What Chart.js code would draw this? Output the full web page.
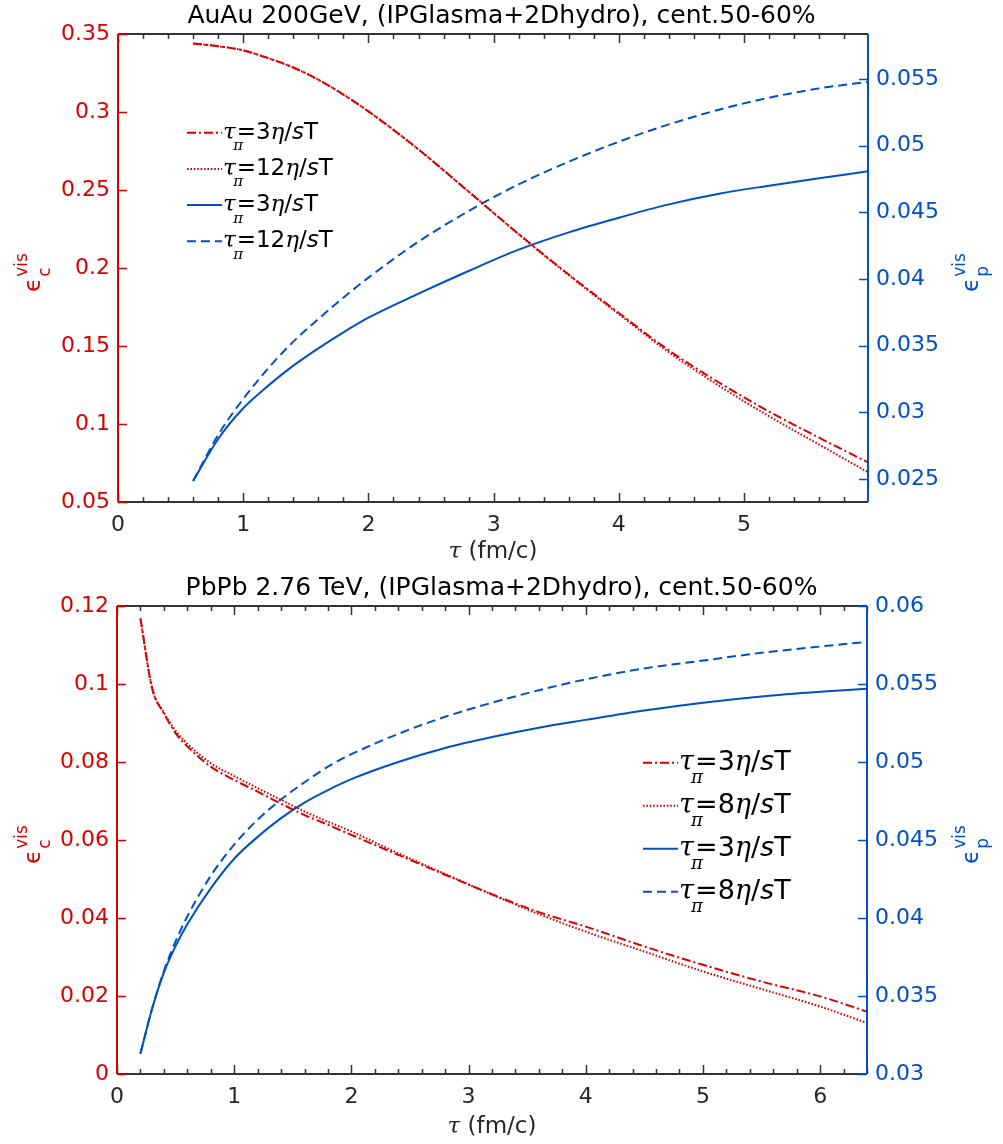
<!DOCTYPE html>
<html>
<head>
<meta charset="utf-8">
<title>epsilon_c / epsilon_p vs tau</title>
<script src="https://cdn.jsdelivr.net/npm/chart.js@4.4.1/dist/chart.umd.min.js"></script>
<style>
  body { margin: 0; background: #fff; }
  #wrap { position: relative; width: 1003px; height: 1144px; }
  #wrap canvas { position: absolute; left: 0; }
</style>
</head>
<body>
<div id="wrap">
  <canvas id="auau" width="1003" height="572" style="top:0"></canvas>
  <canvas id="pbpb" width="1003" height="572" style="top:572px"></canvas>
</div>
<script>
// AuAu 200GeV, cent.50-60%  (tau in fm/c)
var AU_TAU = [0.6, 0.8, 1.0, 1.2, 1.4, 1.6, 1.8, 2.0, 2.4, 2.8, 3.2, 3.6, 4.0, 4.4, 4.8, 5.2, 5.6, 6.0];
var AU_EC_3  = [0.3439, 0.3422, 0.3395, 0.3345, 0.3285, 0.3207, 0.3112, 0.3004, 0.2760, 0.2490, 0.2218, 0.1958, 0.1712, 0.1472, 0.1266, 0.1080, 0.0912, 0.0750];
var AU_EC_12 = [0.3439, 0.3422, 0.3395, 0.3345, 0.3285, 0.3207, 0.3112, 0.3004, 0.2760, 0.2490, 0.2216, 0.1954, 0.1704, 0.1460, 0.1245, 0.1050, 0.0868, 0.0686];
var AU_EP_3  = [0.02485, 0.0280, 0.0303, 0.0320, 0.0335, 0.0348, 0.0360, 0.0371, 0.0389, 0.0406, 0.0422, 0.0435, 0.0446, 0.0456, 0.0464, 0.0470, 0.04755, 0.0481];
var AU_EP_12 = [0.02485, 0.0283, 0.0310, 0.0333, 0.0353, 0.0370, 0.0386, 0.0401, 0.0428, 0.0451, 0.0471, 0.0488, 0.0503, 0.0516, 0.0527, 0.0536, 0.0543, 0.0548];

// PbPb 2.76 TeV, cent.50-60%
var PB_TAU = [0.2, 0.3, 0.4, 0.5, 0.6, 0.8, 1.0, 1.2, 1.4, 1.6, 1.8, 2.0, 2.4, 2.8, 3.2, 3.6, 4.0, 4.5, 5.0, 5.5, 6.0, 6.4];
var PB_EC_3 = [0.1168, 0.0989, 0.0925, 0.0874, 0.0840, 0.0788, 0.0754, 0.0724, 0.0693, 0.0664, 0.0639, 0.0613, 0.0562, 0.0511, 0.0461, 0.0415, 0.0378, 0.0327, 0.0280, 0.0237, 0.0199, 0.0160];
var PB_EC_8 = [0.1168, 0.0989, 0.0927, 0.0880, 0.0847, 0.0797, 0.0764, 0.0733, 0.0703, 0.0673, 0.0647, 0.0622, 0.0566, 0.0513, 0.0460, 0.0410, 0.0365, 0.0314, 0.0263, 0.0218, 0.0173, 0.0131];
var PB_EP_3 = [0.0313, 0.0342, 0.0365, 0.0382, 0.0396, 0.0419, 0.0438, 0.0452, 0.0464, 0.0474, 0.0482, 0.0489, 0.0500, 0.0509, 0.0516, 0.0522, 0.0527, 0.0533, 0.0538, 0.0542, 0.0545, 0.0547];
var PB_EP_8 = [0.0313, 0.0342, 0.0366, 0.0385, 0.0401, 0.0427, 0.0447, 0.0463, 0.0476, 0.0487, 0.0497, 0.0505, 0.0518, 0.0529, 0.0538, 0.0546, 0.0553, 0.0560, 0.0565, 0.0570, 0.0574, 0.0577];

// axis ranges and tick labels
var AU_X_TICKS = [0, 1, 2, 3, 4, 5];
var AU_YL_TICKS = [0.05, 0.1, 0.15, 0.2, 0.25, 0.3, 0.35];
var AU_YR_TICKS = [0.025, 0.03, 0.035, 0.04, 0.045, 0.05, 0.055];
var PB_X_TICKS = [0, 1, 2, 3, 4, 5, 6];
var PB_YL_TICKS = [0, 0.02, 0.04, 0.06, 0.08, 0.1, 0.12];
var PB_YR_TICKS = [0.03, 0.035, 0.04, 0.045, 0.05, 0.055, 0.06];

(function () {
  "use strict";

  var RED = "#d90000";
  var BLUE = "#0050c4";
  var INK = "#262626";
  var AXIS = "#333333";
  var SANS = '"DejaVu Sans", sans-serif';
  var SERIF = '"DejaVu Serif", serif';

  var DASHDOT = [9, 3, 2, 3];
  var DOTTED = [1.6, 1.8];
  var DASHED = [9, 5];

  function fmt(v) {
    return String(parseFloat(Number(v).toFixed(4)));
  }

  function points(xs, ys) {
    return xs.map(function (x, i) { return { x: x, y: ys[i] }; });
  }

  function fixedTicks(list) {
    return function (scale) {
      scale.ticks = list.map(function (v) { return { value: v }; });
    };
  }

  function series(num, xs, ys, color, dash, axis) {
    return {
      label: num,
      data: points(xs, ys),
      yAxisID: axis,
      borderColor: color,
      backgroundColor: color,
      borderWidth: 2,
      borderDash: dash,
      pointRadius: 0,
      fill: false,
      cubicInterpolationMode: "monotone"
    };
  }

  // draws one run of text and returns the new pen x
  function seg(ctx, text, x, base, font) {
    ctx.font = font;
    ctx.fillText(text, x, base);
    return x + ctx.measureText(text).width;
  }

  // tau_pi = N eta/sT
  function drawTauLabel(ctx, x, y, num, size) {
    var base = y + 0.26 * size;
    ctx.textAlign = "left";
    ctx.textBaseline = "alphabetic";
    ctx.fillStyle = "#000";
    ctx.font = "italic " + size + "px " + SERIF;
    ctx.fillText("\u03c4", x, base);
    var w = ctx.measureText("\u03c4").width;
    ctx.font = "italic " + Math.round(size * 0.66) + "px " + SERIF;
    ctx.fillText("\u03c0", x + w * 0.8, base + 0.5 * size);
    x += w + 0.04 * size;
    x = seg(ctx, "=" + num, x, base, size + "px " + SANS);
    x = seg(ctx, "\u03b7", x, base, "italic " + size + "px " + SERIF);
    x = seg(ctx, "/", x, base, size + "px " + SANS);
    x = seg(ctx, "s", x, base, "italic " + size + "px " + SANS);
    seg(ctx, "T", x, base, size + "px " + SANS);
  }

  // rotated epsilon_sub^vis axis title
  function drawEps(ctx, bx, by, sub, color, size) {
    var small = Math.round(size * 0.76);
    ctx.save();
    ctx.translate(bx, by);
    ctx.rotate(-Math.PI / 2);
    ctx.fillStyle = color;
    ctx.textAlign = "left";
    ctx.textBaseline = "alphabetic";
    ctx.font = size + "px " + SANS;
    ctx.fillText("\u03f5", 0, 0);
    var w = ctx.measureText("\u03f5").width + 1;
    ctx.font = small + "px " + SANS;
    ctx.fillText(sub, w, 0.42 * size);
    ctx.fillText("vis", w, -0.58 * size);
    ctx.restore();
  }

  function drawTauAxisTitle(ctx, cx, cy, size) {
    ctx.font = "italic " + size + "px " + SERIF;
    var w1 = ctx.measureText("\u03c4").width;
    ctx.font = size + "px " + SANS;
    var w2 = ctx.measureText(" (fm/c)").width;
    var x = cx - (w1 + w2) / 2;
    ctx.fillStyle = INK;
    ctx.textAlign = "left";
    ctx.textBaseline = "middle";
    x = seg(ctx, "\u03c4", x, cy, "italic " + size + "px " + SERIF);
    seg(ctx, " (fm/c)", x, cy, size + "px " + SANS);
  }

  function line(ctx, x1, y1, x2, y2) {
    ctx.beginPath();
    ctx.moveTo(x1, y1);
    ctx.lineTo(x2, y2);
    ctx.stroke();
  }

  // MATLAB-style box: inward ticks, coloured y axes, custom legend and labels
  function framePlugin(cfg) {
    return {
      id: "frame",
      afterDraw: function (chart) {
        var ctx = chart.ctx;
        var a = chart.chartArea;
        var xs = chart.scales.x, yl = chart.scales.yL, yr = chart.scales.yR;
        var MAJ = 9, MIN = 5;
        ctx.save();
        ctx.setLineDash([]);
        ctx.lineWidth = 1.5;

        // x ticks, bottom and top
        ctx.strokeStyle = AXIS;
        var v, px;
        for (v = 0; v <= xs.max + 1e-9; v = +(v + 0.2).toFixed(4)) {
          px = Math.round(xs.getPixelForValue(v)) + 0.5;
          var len = Math.abs(v - Math.round(v)) < 1e-6 ? MAJ : MIN;
          line(ctx, px, a.bottom, px, a.bottom - len);
          line(ctx, px, a.top, px, a.top + len);
        }
        ctx.lineWidth = 2;
        line(ctx, a.left, a.top, a.right, a.top);
        line(ctx, a.left, a.bottom, a.right, a.bottom);

        // left axis
        ctx.strokeStyle = RED;
        ctx.lineWidth = 1.5;
        yl.ticks.forEach(function (t) {
          var py = Math.round(yl.getPixelForValue(t.value)) + 0.5;
          line(ctx, a.left, py, a.left + MAJ, py);
        });
        ctx.lineWidth = 2;
        line(ctx, a.left, a.top, a.left, a.bottom);

        // right axis
        ctx.strokeStyle = BLUE;
        ctx.lineWidth = 1.5;
        yr.ticks.forEach(function (t) {
          var py = Math.round(yr.getPixelForValue(t.value)) + 0.5;
          line(ctx, a.right, py, a.right - MAJ, py);
        });
        ctx.lineWidth = 2;
        line(ctx, a.right, a.top, a.right, a.bottom);

        // legend built from the datasets
        var L = cfg.legend;
        chart.data.datasets.forEach(function (ds, i) {
          var y = L.y + i * L.dy;
          ctx.strokeStyle = ds.borderColor;
          ctx.lineWidth = 2;
          ctx.setLineDash(ds.borderDash);
          line(ctx, L.x, y, L.x + L.sample, y);
          ctx.setLineDash([]);
          drawTauLabel(ctx, L.x + L.sample + 1, y, ds.label, L.size);
        });

        drawTauAxisTitle(ctx, (a.left + a.right) / 2, cfg.xTitleY, 23);
        drawEps(ctx, 40, cfg.epsY, "c", RED, 23);
        drawEps(ctx, 978, cfg.epsY, "p", BLUE, 23);
        ctx.restore();
      }
    };
  }

  function makeChart(id, opt) {
    var tickFont = { family: SANS, size: 22 };
    var noGrid = { display: false, drawTicks: false };
    return new Chart(document.getElementById(id), {
      type: "line",
      data: { datasets: opt.datasets },
      plugins: [framePlugin(opt)],
      options: {
        responsive: false,
        animation: false,
        events: [],
        layout: { padding: 0 },
        plugins: {
          legend: { display: false },
          tooltip: { enabled: false },
          title: {
            display: true,
            text: opt.title,
            color: "#000",
            font: { family: SANS, size: 25, weight: "normal" },
            padding: { top: 1, bottom: 3 }
          }
        },
        scales: {
          x: {
            type: "linear",
            min: 0,
            max: opt.xMax,
            afterBuildTicks: fixedTicks(opt.xTicks),
            afterFit: function (s) { s.height = 70; },
            grid: noGrid,
            border: { display: false },
            ticks: { color: INK, font: tickFont, padding: 10, maxRotation: 0, autoSkip: false, callback: fmt }
          },
          yL: {
            type: "linear",
            position: "left",
            min: opt.yL[0],
            max: opt.yL[1],
            afterBuildTicks: fixedTicks(opt.yLTicks),
            afterFit: function (s) { s.width = opt.left; },
            grid: noGrid,
            border: { display: false },
            ticks: { color: RED, font: tickFont, padding: 8, autoSkip: false, callback: fmt }
          },
          yR: {
            type: "linear",
            position: "right",
            min: opt.yR[0],
            max: opt.yR[1],
            afterBuildTicks: fixedTicks(opt.yRTicks),
            afterFit: function (s) { s.width = 1003 - opt.right; },
            grid: noGrid,
            border: { display: false },
            ticks: { color: BLUE, font: tickFont, padding: 8, autoSkip: false, callback: fmt }
          }
        }
      }
    });
  }

  makeChart("auau", {
    title: "AuAu 200GeV, (IPGlasma+2Dhydro), cent.50-60%",
    left: 118, right: 868,
    xMax: 5.99, xTicks: AU_X_TICKS,
    yL: [0.05, 0.35], yLTicks: AU_YL_TICKS,
    yR: [0.02327, 0.05838], yRTicks: AU_YR_TICKS,
    xTitleY: 552, epsY: 292,
    legend: { x: 187, y: 132.7, dy: 36.2, sample: 35, size: 23 },
    datasets: [
      series("3", AU_TAU, AU_EC_3, RED, DASHDOT, "yL"),
      series("12", AU_TAU, AU_EC_12, RED, DOTTED, "yL"),
      series("3", AU_TAU, AU_EP_3, BLUE, [], "yR"),
      series("12", AU_TAU, AU_EP_12, BLUE, DASHED, "yR")
    ]
  });

  makeChart("pbpb", {
    title: "PbPb 2.76 TeV, (IPGlasma+2Dhydro), cent.50-60%",
    left: 117, right: 867,
    xMax: 6.4, xTicks: PB_X_TICKS,
    yL: [0, 0.12], yLTicks: PB_YL_TICKS,
    yR: [0.03, 0.06], yRTicks: PB_YR_TICKS,
    xTitleY: 555, epsY: 292,
    legend: { x: 643, y: 190.7, dy: 43, sample: 35, size: 27 },
    datasets: [
      series("3", PB_TAU, PB_EC_3, RED, DASHDOT, "yL"),
      series("8", PB_TAU, PB_EC_8, RED, DOTTED, "yL"),
      series("3", PB_TAU, PB_EP_3, BLUE, [], "yR"),
      series("8", PB_TAU, PB_EP_8, BLUE, DASHED, "yR")
    ]
  });
})();
</script>
</body>
</html>
